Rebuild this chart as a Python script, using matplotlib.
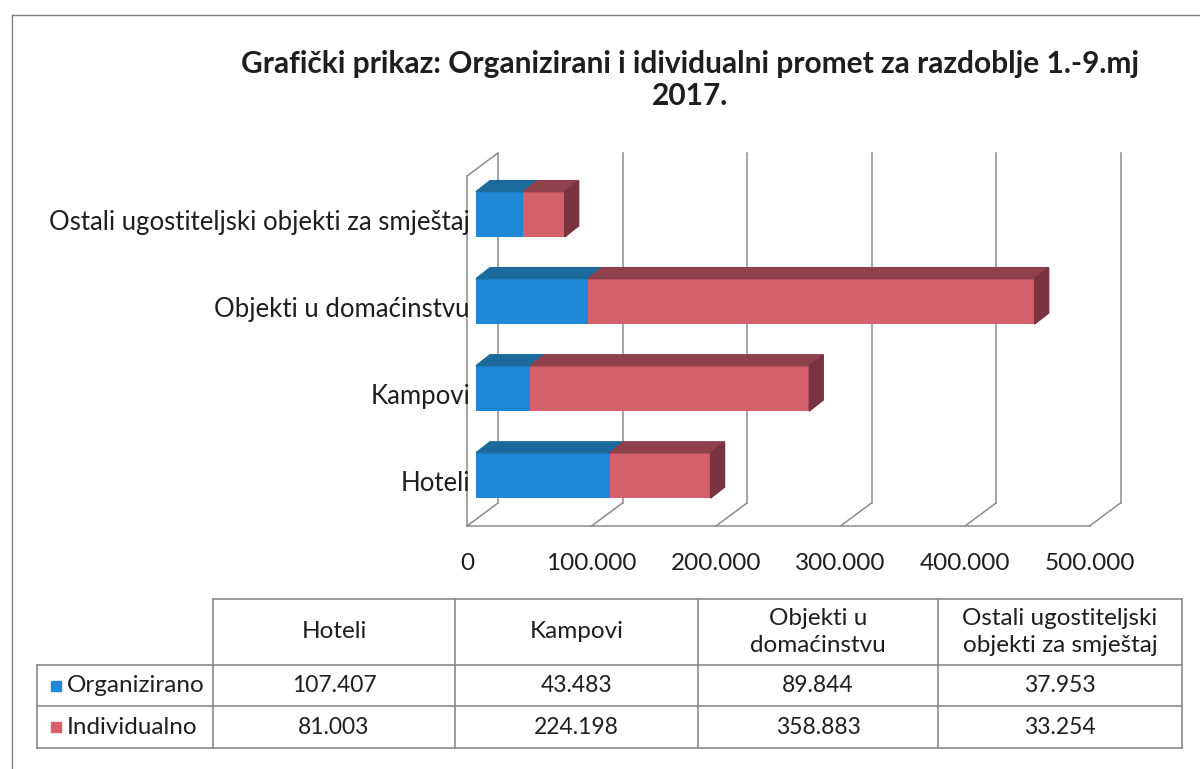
import matplotlib.pyplot as plt
from matplotlib.patches import Polygon, Rectangle

# data
categories = ["Hoteli", "Kampovi", "Objekti u domaćinstvu",
              "Ostali ugostiteljski objekti za smještaj"]
table_headers = ["Hoteli", "Kampovi", "Objekti u\ndomaćinstvu",
                 "Ostali ugostiteljski\nobjekti za smještaj"]
series_names = ["Organizirano", "Individualno"]
organizirano = [107407, 43483, 89844, 37953]
individualno = [81003, 224198, 358883, 33254]
x_ticks = [0, 100000, 200000, 300000, 400000, 500000]
title = "Grafički prikaz: Organizirani i idividualni promet za razdoblje 1.-9.mj\n2017."

BLUE, BLUE_TOP = "#1F88D6", "#1B6A9C"
RED, RED_TOP, RED_SIDE = "#D3606A", "#8E404B", "#7A3440"
GRID = "#8c8c8c"
TXT = "#1e1e1e"

plt.rcParams["font.family"] = ["Lato", "DejaVu Sans"]


def fmt(v):
    return f"{v:,}".replace(",", ".")


W, H = 1200, 769
fig = plt.figure(figsize=(12, 7.69), dpi=100)

# pixel-space overlay for frame, title and data table
bg = fig.add_axes([0, 0, 1, 1])
bg.set_xlim(0, W)
bg.set_ylim(H, 0)
bg.axis("off")

# main plot (front plane of the bars)
ax_w, ax_h = 622.5, 350
ax = fig.add_axes([476 / W, (H - 519) / H, ax_w / W, ax_h / H])
y0, y1 = -0.5, 3.52
xmax = x_ticks[-1]
ax.set_xlim(0, xmax)
ax.set_ylim(y0, y1)
ax.axis("off")

px_x = xmax / ax_w
px_y = (y1 - y0) / ax_h
FRONT = (-9, -7)   # floor front edge relative to bar plane (pixels)
BACK = (22, 16)    # back wall relative to bar plane
DEPTH = (14, 11)   # bar depth


def sh(x, y, d):
    return x + d[0] * px_x, y + d[1] * px_y


def seg(p, q, **kw):
    ax.plot([p[0], q[0]], [p[1], q[1]], color=GRID, lw=1.1,
            clip_on=False, zorder=1, **kw)


# walls and floor
for t in x_ticks:
    seg(sh(t, y0, BACK), sh(t, y1, BACK))
    seg(sh(t, y0, FRONT), sh(t, y0, BACK))
seg(sh(0, y0, FRONT), sh(xmax, y0, FRONT))
seg(sh(0, y0, FRONT), sh(0, y1, FRONT))
seg(sh(0, y1, FRONT), sh(0, y1, BACK))

# bars
h = 0.52
for i in range(len(categories)):
    o, v = organizirano[i], individualno[i]
    ax.barh(i, o, height=h, color=BLUE, zorder=3)
    ax.barh(i, v, left=o, height=h, color=RED, zorder=3)
    top = i + h / 2
    bot = i - h / 2
    for start, width, col in [(0, o, BLUE_TOP), (o, v, RED_TOP)]:
        pts = [(start, top), (start + width, top),
               sh(start + width, top, DEPTH), sh(start, top, DEPTH)]
        ax.add_patch(Polygon(pts, closed=True, color=col, zorder=3,
                             clip_on=False))
    end = o + v
    pts = [(end, bot), (end, top), sh(end, top, DEPTH), sh(end, bot, DEPTH)]
    ax.add_patch(Polygon(pts, closed=True, color=RED_SIDE, zorder=3,
                         clip_on=False))
    ax.text(*sh(0, i, (-6, -8)), categories[i], ha="right", va="center",
            fontsize=18.5, color=TXT)

for t in x_ticks:
    lab = "0" if t == 0 else fmt(t)
    ax.text(*sh(t, y0, (FRONT[0], FRONT[1] - 38)), lab, ha="center",
            va="center", fontsize=17.5, color=TXT)

# title
bg.text(690, 80, title, ha="center", va="center", fontsize=21.5,
        fontweight="bold", color=TXT, linespacing=1.2)

# outer frame
bg.plot([12, 12], [15, H], color="#808080", lw=1)
bg.plot([12, W], [15, 15], color="#808080", lw=1)

# data table
cols = [37, 213, 455, 698, 938, 1182]
rows = [599, 665, 706, 748]
tc = "#8a8a8a"
bg.plot([cols[1], cols[-1]], [rows[0], rows[0]], color=tc, lw=1.2)
for r in rows[1:]:
    bg.plot([cols[0], cols[-1]], [r, r], color=tc, lw=1.2)
bg.plot([cols[0], cols[0]], [rows[1], rows[-1]], color=tc, lw=1.2)
for c in cols[1:]:
    bg.plot([c, c], [rows[0], rows[-1]], color=tc, lw=1.2)

for j, head in enumerate(table_headers):
    cx = (cols[j + 1] + cols[j + 2]) / 2
    bg.text(cx, (rows[0] + rows[1]) / 2, head, ha="center", va="center",
            fontsize=17.5, color=TXT, linespacing=1.3)

for k, (name, vals, col) in enumerate([(series_names[0], organizirano, BLUE),
                                       (series_names[1], individualno, RED)]):
    cy = (rows[k + 1] + rows[k + 2]) / 2
    bg.add_patch(Rectangle((51, cy - 5), 10, 10, color=col))
    bg.text(67, cy, name, ha="left", va="center", fontsize=17.5, color=TXT)
    for j, v in enumerate(vals):
        cx = (cols[j + 1] + cols[j + 2]) / 2
        bg.text(cx, cy, fmt(v), ha="center", va="center", fontsize=16.5,
                color=TXT)

fig.savefig("out.png", dpi=100)
